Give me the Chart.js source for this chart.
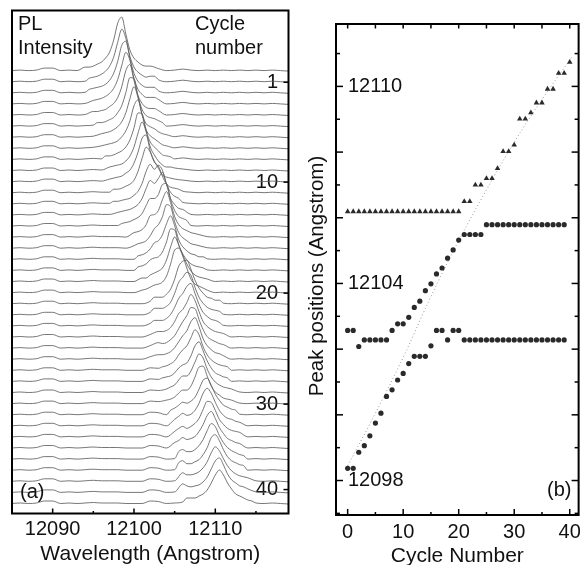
<!DOCTYPE html>
<html>
<head>
<meta charset="utf-8">
<script src="https://cdn.jsdelivr.net/npm/chart.js@4.4.1/dist/chart.umd.min.js"></script>
<style>
html,body{margin:0;padding:0;background:#fff;}
#wrap{position:relative;width:586px;height:565px;overflow:hidden;background:#fff;}
canvas{position:absolute;top:0;}
#ca{left:0;}
#cb{left:292px;}
</style>
</head>
<body>
<div id="wrap">
<canvas id="ca" width="292" height="565"></canvas>
<canvas id="cb" width="294" height="565"></canvas>
</div>
<script>
// ================= DATA: panel (a) PL spectra =================
// shared background of every spectrum (1 Angstrom sampling)
const baselineWavelength = [12085,12086,12087,12088,12089,12090,12091,12092,12093,12094,12095,12096,12097,12098,12099,12100,12101,12102,12103,12104,12105,12106,12107,12108,12109,12110,12111,12112,12113,12114,12115,12116,12117,12118,12119];
const baselineIntensity  = [0.5,1,0.5,1,3,3,0.5,1,0.5,1,1.5,1,1,1,0.5,0.5,0.5,3,2.5,0.5,1,2,1,0.5,1,0.5,1,0.5,1,0.5,1,0.5,1,0.5,0];
// peak region of each spectrum (cycle 0..39), sampled every 0.5 Angstrom from peakWindowStart
const windowStep = 0.5;
const peakWindowStart = [12094,12094.5,12094.5,12095,12095,12095.5,12096,12096,12096.5,12097,12097,12097.5,12097.5,12098,12098.5,12100,12100,12100.5,12100.5,12101,12101,12102.5,12102.5,12102.5,12103,12103,12103,12103.5,12103.5,12104,12104,12104.5,12105,12105,12105,12105.5,12105.5,12106,12106,12106.5];
const peakWindowIntensity = [
[4,4,5,7,9,13,19,31,48,54,37,21,13,9,6,5,5],
[4,5,6,8,11,16,25,40,53,44,26,15,10,7,5,6,6],
[4,5,6,7,9,13,20,32,48,52,35,20,12,8,6,6,6],
[4,5,6,8,11,16,25,39,52,44,26,15,10,7,7,7,5],
[4,4,5,6,9,12,18,29,45,51,35,20,12,8,7,7,5],
[4,4,5,7,9,14,21,34,49,48,30,17,11,9,8,6,4],
[4,5,6,8,11,16,25,39,51,40,23,14,11,9,6,4,3],
[3,4,5,6,8,12,18,28,43,49,34,19,13,10,7,4,3],
[4,4,5,7,9,13,20,32,47,46,29,18,13,9,5,4,3],
[4,5,6,7,10,15,24,38,49,39,24,16,10,6,4,4,3],
[3,4,5,6,9,12,19,30,44,47,31,21,14,7,5,4,3],
[4,4,5,7,9,13,22,35,46,41,31,27,17,9,6,5,4],
[3,3,4,5,6,9,13,21,33,40,35,39,34,20,12,8,6],
[3,4,5,6,8,11,17,27,35,32,37,43,31,17,11,7,6],
[3,4,5,7,9,13,21,28,28,32,42,43,27,16,10,8,6],
[5,6,8,13,22,23,27,38,46,35,21,13,9,7,5,4,3],
[3,5,6,8,13,20,24,32,44,42,27,16,11,8,5,4,3],
[4,5,7,11,17,19,25,36,44,34,20,13,9,6,5,3,3],
[4,5,7,11,13,14,19,29,42,41,26,17,11,7,5,4,3],
[4,4,7,9,11,14,22,35,45,37,27,18,11,7,5,4,3],
[3,4,6,8,9,11,17,29,43,45,37,25,14,9,7,5,3],
[7,7,7,10,15,25,38,43,44,35,24,16,11,7,6,4,4],
[7,7,7,9,13,22,33,38,43,40,28,18,12,8,6,5,4],
[6,6,6,8,12,19,28,33,40,43,33,22,14,10,7,6,4],
[6,6,7,10,16,24,28,35,43,37,26,16,11,8,6,5,4],
[6,5,6,9,13,20,27,33,41,40,29,19,12,9,7,5,4],
[5,5,6,8,12,18,24,29,38,42,33,21,14,10,7,6,4],
[4,5,7,10,16,21,25,33,41,36,24,16,11,8,6,5,4],
[4,5,6,9,14,17,19,26,36,40,31,21,14,9,7,5,4],
[4,6,8,13,17,17,22,31,39,35,24,16,11,8,6,5,4],
[4,5,7,11,14,14,18,27,37,38,28,18,12,9,6,5,4],
[5,7,10,13,12,14,18,26,35,37,30,21,15,10,8,6,5],
[7,10,13,11,12,16,23,33,38,33,24,16,11,8,7,5,4],
[6,9,11,9,11,14,19,28,36,35,27,18,13,9,7,6,5],
[6,8,11,9,10,12,17,24,33,37,30,21,15,10,8,6,5],
[8,10,8,8,10,14,20,29,36,33,24,17,12,9,7,5,4],
[8,10,7,7,9,11,16,23,33,36,30,21,14,10,8,6,5],
[9,7,7,8,10,14,20,29,35,31,23,16,11,8,6,5,4],
[9,7,6,7,8,11,16,24,32,35,28,19,13,10,7,6,4],
[6,6,6,8,10,14,21,29,34,29,21,15,10,8,6,4,3]
];
const wavelengthTicks = [12090, 12100, 12110];
const wavelengthMinorTicks = [12095, 12105, 12115];
const cycleLabels = ['1', '10', '20', '30', '40'];
const cycleLabelAt = [1, 10, 20, 30, 37.7];

// ================= DATA: panel (b) peak positions =================
const cycleNumber = [0,1,2,3,4,5,6,7,8,9,10,11,12,13,14,15,16,17,18,19,20,21,22,23,24,25,26,27,28,29,30,31,32,33,34,35,36,37,38,39,40];
const peakTriangles = [12106.19,12106.19,12106.19,12106.19,12106.19,12106.19,12106.19,12106.19,12106.19,12106.19,12106.19,12106.19,12106.19,12106.19,12106.19,12106.19,12106.19,12106.19,12106.19,12106.19,12106.19,
  12106.5,12106.5,12107.0,12107.0,12107.2,12107.2,12107.5,12108.02,12108.02,12108.22,12109.01,12109.01,12109.2,12109.5,12109.5,12109.92,12109.92,12110.4,12110.4,12110.74];
const peakCirclesUpper = [12102.57,12102.57,12102.08,12102.28,12102.28,12102.28,12102.28,12102.28,12102.57,12102.77,12102.77,12102.97,12103.27,12103.46,12103.78,12103.99,12104.29,12104.47,12104.77,12105.02,12105.32,
  12105.49,12105.49,12105.49,12105.49,12105.79,12105.79,12105.79,12105.79,12105.79,12105.79,12105.79,12105.79,12105.79,12105.79,12105.79,12105.79,12105.79,12105.79,12105.79];
const peakCirclesLower = [12098.37,12098.37,12098.86,12099.06,12099.36,12099.75,12100.05,12100.56,12100.76,12101.06,12101.26,12101.56,12101.78,12101.78,12101.78,12102.1,12102.57,12102.57,12102.28,12102.57,12102.57,
  12102.28,12102.28,12102.28,12102.28,12102.28,12102.28,12102.28,12102.28,12102.28,12102.28,12102.28,12102.28,12102.28,12102.28,12102.28,12102.28,12102.28,12102.28,12102.28];
const guideCycles = [0, 5, 10, 15, 20, 25, 30, 35, 40.5];
const guidePeak = [12098.45, 12100.05, 12101.75, 12103.6, 12105.3, 12106.85, 12108.3, 12109.6, 12110.92];
const cycleTicks = [0, 10, 20, 30, 40];
const cycleMinorTicks = [5, 15, 25, 35];
const peakTicks = [12098, 12104, 12110];
const peakAllTicks = [12097,12098,12099,12100,12101,12102,12103,12104,12105,12106,12107,12108,12109,12110,12111];

// ================= helpers =================
const FONT = "'Liberation Sans', Arial, Helvetica, sans-serif";
Chart.defaults.font.family = FONT;
Chart.defaults.color = '#111';
const INK = '#111';

function line(ctx, x1, y1, x2, y2) { ctx.beginPath(); ctx.moveTo(x1, y1); ctx.lineTo(x2, y2); ctx.stroke(); }

// ================= panel (a) =================
const traceOffset = 11.1;
const traceSets = peakWindowIntensity.map((win, c) => {
  const s = peakWindowStart[c];
  const e = s + windowStep * (win.length - 1);
  const pts = [];
  baselineWavelength.forEach((w, i) => { if (w < s) pts.push({x: w, y: baselineIntensity[i]}); });
  win.forEach((v, i) => pts.push({x: s + i * windowStep, y: v}));
  baselineWavelength.forEach((w, i) => { if (w > e) pts.push({x: w, y: baselineIntensity[i]}); });
  return {
    label: 'cycle ' + c,
    data: pts.map(p => ({x: p.x, y: p.y - c * traceOffset})),
    borderColor: 'rgba(95,95,95,0.85)',
    borderWidth: 1,
    pointRadius: 0,
    fill: false,
    cubicInterpolationMode: 'monotone'
  };
});

const decorA = {
  id: 'decorA',
  afterDraw(chart) {
    const {ctx, chartArea: a, scales} = chart;
    ctx.save();
    ctx.strokeStyle = '#000';
    ctx.lineWidth = 1.5;
    wavelengthTicks.forEach(v => { const x = scales.x.getPixelForValue(v); line(ctx, x, a.bottom, x, a.bottom - 5); });
    wavelengthMinorTicks.forEach(v => { const x = scales.x.getPixelForValue(v); line(ctx, x, a.bottom, x, a.bottom - 2.5); });
    cycleLabelAt.forEach(v => { const y = scales.cyc.getPixelForValue(v); line(ctx, a.right, y, a.right - 5, y); });
    ctx.lineWidth = 2;
    ctx.strokeRect(a.left, a.top, a.right - a.left, a.bottom - a.top);
    ctx.fillStyle = INK;
    ctx.font = '20px ' + FONT;
    ctx.textAlign = 'left';
    ctx.textBaseline = 'alphabetic';
    ctx.fillText('PL', 18, 30);
    ctx.fillText('Intensity', 18, 54);
    ctx.fillText('Cycle', 195, 30);
    ctx.fillText('number', 195, 54);
    ctx.fillText('(a)', 20, 498);
    ctx.restore();
  }
};

new Chart(document.getElementById('ca'), {
  type: 'line',
  data: {datasets: traceSets},
  options: {
    responsive: false,
    animation: false,
    events: [],
    layout: {padding: {left: 12, top: 10.5, right: 3.5, bottom: 0}},
    plugins: {legend: {display: false}, tooltip: {enabled: false}},
    scales: {
      x: {
        type: 'linear', position: 'bottom', min: 12085, max: 12119,
        grid: {display: false, drawTicks: false}, border: {display: false},
        ticks: {font: {size: 20}, color: INK, padding: 4, autoSkip: false, maxRotation: 0, callback: v => String(v)},
        afterBuildTicks: s => { s.ticks = wavelengthTicks.map(v => ({value: v})); },
        afterFit: s => { s.height = 51.5; },
        title: {display: true, text: 'Wavelength (Angstrom)', color: INK, font: {size: 21, lineHeight: 1}, padding: {top: 0, bottom: 0}}
      },
      y: {display: false, min: -442.4, max: 60.6},
      cyc: {
        position: 'right', reverse: true, min: -5.459, max: 39.856,
        grid: {display: false, drawTicks: false}, border: {display: false},
        ticks: {mirror: true, padding: -10.5, font: {size: 20}, color: INK, autoSkip: false, callback: (v, i) => cycleLabels[i]},
        afterBuildTicks: s => { s.ticks = cycleLabelAt.map(v => ({value: v})); },
        afterFit: s => { s.width = 0; }
      }
    }
  },
  plugins: [decorA]
});

// ================= panel (b) =================
const toPts = (xs, ys) => ys.map((y, i) => ({x: xs[i], y: y}));
const MARK = '#2a2a2a';

const decorB = {
  id: 'decorB',
  afterDraw(chart) {
    const {ctx, chartArea: a, scales: {x, y}} = chart;
    ctx.save();
    ctx.strokeStyle = '#000';
    ctx.lineWidth = 1.5;
    cycleTicks.forEach(v => { const px = x.getPixelForValue(v); line(ctx, px, a.bottom, px, a.bottom - 6); line(ctx, px, a.top, px, a.top + 4.5); });
    cycleMinorTicks.forEach(v => { const px = x.getPixelForValue(v); line(ctx, px, a.bottom, px, a.bottom - 3); line(ctx, px, a.top, px, a.top + 4.5); });
    peakAllTicks.forEach(v => {
      const py = y.getPixelForValue(v);
      const len = (v % 2 === 0) ? 7 : 4;
      line(ctx, a.left, py, a.left + len, py);
      line(ctx, a.right, py, a.right - len, py);
    });
    ctx.lineWidth = 2;
    ctx.strokeRect(a.left, a.top, a.right - a.left, a.bottom - a.top);
    ctx.fillStyle = INK;
    ctx.font = '20px ' + FONT;
    ctx.textAlign = 'left';
    ctx.textBaseline = 'alphabetic';
    ctx.fillText('(b)', 255, 496);
    ctx.translate(25, 276);
    ctx.rotate(-Math.PI / 2);
    ctx.font = '20.5px ' + FONT;
    ctx.textAlign = 'center';
    ctx.textBaseline = 'middle';
    ctx.fillText('Peak positions (Angstrom)', 0, 0);
    ctx.restore();
  }
};

new Chart(document.getElementById('cb'), {
  type: 'scatter',
  data: {
    datasets: [
      {label: 'peak A', data: toPts(cycleNumber, peakTriangles), pointStyle: 'triangle', pointRadius: 3.2, backgroundColor: MARK, borderColor: MARK, borderWidth: 0},
      {label: 'peak B', data: toPts(cycleNumber, peakCirclesUpper), pointStyle: 'circle', pointRadius: 2.6, backgroundColor: MARK, borderColor: MARK, borderWidth: 0},
      {label: 'peak C', data: toPts(cycleNumber, peakCirclesLower), pointStyle: 'circle', pointRadius: 2.6, backgroundColor: MARK, borderColor: MARK, borderWidth: 0},
      {label: 'guide', data: toPts(guideCycles, guidePeak), showLine: true, pointRadius: 0, borderColor: '#9a9a9a', borderWidth: 1, borderDash: [1, 2.5], tension: 0.4, fill: false}
    ]
  },
  options: {
    responsive: false,
    animation: false,
    events: [],
    layout: {padding: {left: 0, top: 10.5, right: 3, bottom: 0}},
    plugins: {legend: {display: false}, tooltip: {enabled: false}},
    scales: {
      x: {
        type: 'linear', min: -2.1, max: 41.6,
        grid: {display: false, drawTicks: false}, border: {display: false},
        ticks: {font: {size: 20}, color: INK, padding: 5, autoSkip: false, maxRotation: 0},
        afterBuildTicks: s => { s.ticks = cycleTicks.map(v => ({value: v})); },
        afterFit: s => { s.height = 50; },
        title: {display: true, text: 'Cycle Number', color: INK, font: {size: 21, lineHeight: 1}, padding: {top: 0, bottom: -2}}
      },
      y: {
        type: 'linear', position: 'left', min: 12096.95, max: 12111.9,
        grid: {display: false, drawTicks: false}, border: {display: false},
        ticks: {mirror: true, padding: 12, font: {size: 20}, color: INK, autoSkip: false, callback: v => String(v)},
        afterBuildTicks: s => { s.ticks = peakTicks.map(v => ({value: v})); },
        afterFit: s => { s.width = 44; }
      }
    }
  },
  plugins: [decorB]
});
</script>
</body>
</html>
